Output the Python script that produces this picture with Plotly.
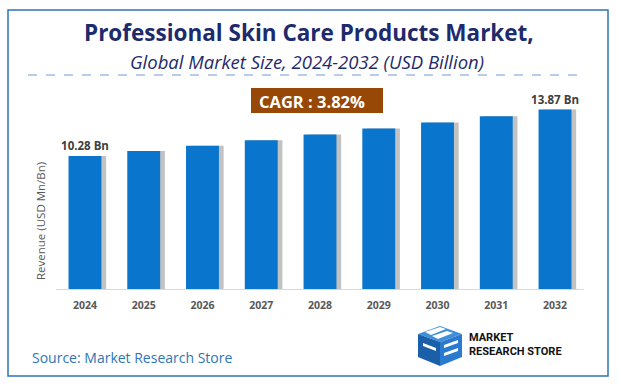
import plotly.graph_objects as go

years = ["2024", "2025", "2026", "2027", "2028", "2029", "2030", "2031", "2032"]
revenue = [10.28, 10.67, 11.08, 11.50, 11.94, 12.40, 12.87, 13.36, 13.87]
label_text = ["10.28 Bn", "", "", "", "", "", "", "", "13.87 Bn"]
cagr_text = "CAGR : 3.82%"
title_text = "Professional Skin Care Products Market,"
subtitle_text = "Global Market Size, 2024-2032 (USD Billion)"
ytitle = "Revenue (USD Mn/Bn)"
source_text = "Source: Market Research Store"

W, H = 618, 386
def px(x):
    return x / W
def py(y):
    return 1 - y / H

BAR = "#0a75cd"
fig = go.Figure()
# shadow
fig.add_trace(go.Bar(x=years, y=revenue, width=0.56, offset=-0.20,
                     marker=dict(color="rgba(120,120,120,0.45)", line=dict(width=0)),
                     hoverinfo="skip", showlegend=False))
fig.add_trace(go.Bar(x=years, y=revenue, width=0.56, offset=-0.28,
                     marker=dict(color=BAR, line=dict(width=0)),
                     text=label_text, textposition="outside", constraintext="none",
                     textfont=dict(family="Open Sans", size=11.5, color="#404040", weight="bold"),
                     cliponaxis=False, showlegend=False))

shapes = [
    dict(type="rect", xref="paper", yref="paper", x0=px(8), x1=px(608), y0=py(376), y1=py(10),
         line=dict(color="#2e75b6", width=1.5), fillcolor="rgba(0,0,0,0)"),
    dict(type="line", xref="paper", yref="paper", x0=px(28), x1=px(586), y0=py(75), y1=py(75),
         line=dict(color="#6f9bd6", width=1, dash="dash")),
    dict(type="rect", xref="paper", yref="paper", x0=px(251), x1=px(383), y0=py(113), y1=py(88),
         line=dict(width=0), fillcolor="#974806"),
]
# logo cube (approximate)
def poly(pts, color):
    d = "M " + " L ".join(f"{px(x)} {py(y)}" for x, y in pts) + " Z"
    return dict(type="path", xref="paper", yref="paper", path=d, line=dict(width=0), fillcolor=color)
shapes += [
    poly([(418, 334), (440, 326), (462, 334), (440, 342)], "#3d8fd8"),
    poly([(418, 334), (440, 342), (440, 366), (418, 357)], "#1b5fa8"),
    poly([(440, 342), (462, 334), (462, 357), (440, 366)], "#2a7bd0"),
    poly([(425, 332), (440, 327), (446, 329), (431, 335)], "white"),
    poly([(432, 336), (447, 331), (453, 333), (438, 339)], "white"),
    poly([(423, 343), (436, 348), (436, 351), (423, 346)], "white"),
    poly([(444, 345), (458, 340), (458, 343), (444, 348)], "white"),
    poly([(444, 353), (458, 348), (458, 351), (444, 356)], "white"),
]

annotations = [
    dict(x=0.5, y=py(33), xref="paper", yref="paper", text=f"<b>{title_text}</b>", showarrow=False,
         font=dict(family="Open Sans", size=22.5, color="#1d2a6c"), xanchor="center", yanchor="middle"),
    dict(x=px(307), y=py(61), xref="paper", yref="paper", text=f"<i>{subtitle_text}</i>", showarrow=False,
         font=dict(family="Open Sans", size=18.5, color="#1d2a6c"), xanchor="center", yanchor="middle"),
    dict(x=px(312), y=py(101), xref="paper", yref="paper", text=f"<b>{cagr_text}</b>", showarrow=False,
         font=dict(family="Open Sans", size=16.5, color="white"), xanchor="center", yanchor="middle"),
    dict(x=px(30), y=py(357), xref="paper", yref="paper", text=source_text, showarrow=False,
         font=dict(family="Open Sans", size=14, color="#2e75b6"), xanchor="left", yanchor="middle"),
    dict(x=px(40), y=py(221), xref="paper", yref="paper", text=ytitle, showarrow=False, textangle=-90,
         font=dict(family="Open Sans", size=11.5, color="#595959"), xanchor="center", yanchor="middle"),
    dict(x=px(467), y=py(344), xref="paper", yref="paper", text="<b>MARKET<br>RESEARCH STORE</b>",
         showarrow=False, align="left",
         font=dict(family="Roboto", size=11, color="#111111"), xanchor="left", yanchor="middle"),
]

fig.update_layout(
    width=W, height=H, margin=dict(l=0, r=0, t=0, b=0),
    paper_bgcolor="white", plot_bgcolor="white",
    barmode="overlay", bargap=0.44,
    shapes=shapes, annotations=annotations,
    xaxis=dict(domain=[px(55.6), px(584.4)], showline=True, linecolor="#d9d9d9", linewidth=1,
               ticks="", tickfont=dict(family="Open Sans", size=10.5, color="#595959", weight="bold"),
               ticklabelstandoff=6, fixedrange=True),
    yaxis=dict(domain=[py(289), py(82)], range=[0, 16], showgrid=False, showticklabels=False,
               zeroline=False, showline=False, ticks="", fixedrange=True),
    font=dict(family="Open Sans"),
)
fig.write_html("out.html", config={"displayModeBar": False},
               post_script="document.body.style.margin='0';")
